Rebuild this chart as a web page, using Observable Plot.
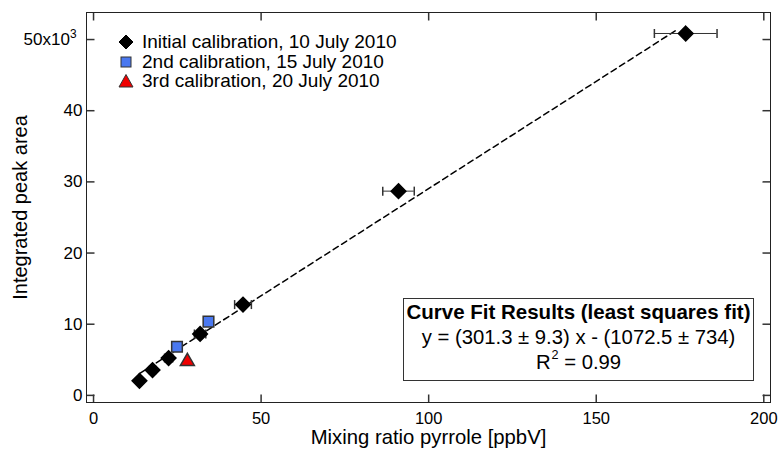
<!DOCTYPE html>
<html><head><meta charset="utf-8">
<script src="https://cdn.jsdelivr.net/npm/d3@7"></script>
<script src="https://cdn.jsdelivr.net/npm/@observablehq/plot@0.6"></script>
<style>
body{margin:0;background:#fff;font-family:"Liberation Sans",Arial,sans-serif;color:#000;}
#wrap{position:relative;width:781px;height:455px;overflow:hidden;}
#wrap svg{position:absolute;left:0;top:0;}
.leg{position:absolute;left:117px;height:20px;display:flex;align-items:center;font-size:19px;white-space:nowrap;}
.leg svg{position:static !important;width:18px;height:18px;margin-right:7px;}
#fitbox{position:absolute;left:403px;top:298px;width:349px;height:81px;border:1px solid #333;text-align:center;font-size:20.3px;line-height:25.5px;background:#fff;white-space:nowrap;}
#fitbox sup{font-size:0.62em;vertical-align:0.8em;line-height:0;margin-left:1px;}
</style></head><body><div id="wrap"></div>
<script>
// ---- data ----
const initialX = [13.7, 17.6, 22.4, 31.8, 44.6, 91.0, 176.7];
const initialY = [2050, 3550, 5250, 8630, 12760, 28700, 50850];
const initialErr = [0.7, 0.9, 1.2, 1.7, 2.5, 4.7, 9.35];
const secondX = [24.9, 34.3];
const secondY = [6840, 10370];
const thirdX = [28.0];
const thirdY = [4770];
const fitSlope = 301.3;
const fitIntercept = -1072.5;
const fitRange = [13.7, 174];
const xTicks = [0, 50, 100, 150, 200];
const yTicks = [0, 10000, 20000, 30000, 40000, 50000];
const legendLabels = ["Initial calibration, 10 July 2010", "2nd calibration, 15 July 2010", "3rd calibration, 20 July 2010"];
const fitTitle = "Curve Fit Results (least squares fit)";
const fitEquation = "y = (301.3 ± 9.3) x - (1072.5 ± 734)";
const fitR2 = "0.99";
const xLabel = "Mixing ratio pyrrole [ppbV]";
const yLabel = "Integrated peak area";

// ---- tables ----
const initial = initialX.map((x, i) => ({x, y: initialY[i], e: initialErr[i]}));
const second = secondX.map((x, i) => ({x, y: secondY[i]}));
const third = thirdX.map((x, i) => ({x, y: thirdY[i]}));
const fitLine = fitRange.map(x => ({x, y: fitSlope * x + fitIntercept}));

const blue = "#4a78f0", red = "#f00000", edge = "#333";
const tickLen = 8;
const tUp = {draw(c){c.moveTo(0,0);c.lineTo(0,-tickLen);}};
const tDown = {draw(c){c.moveTo(0,0);c.lineTo(0,tickLen);}};
const tRight = {draw(c){c.moveTo(0,0);c.lineTo(tickLen,0);}};
const tLeft = {draw(c){c.moveTo(0,0);c.lineTo(-tickLen,0);}};
const capV = {draw(c){c.moveTo(0,-4.5);c.lineTo(0,4.5);}};

const plot = Plot.plot({
  width: 781, height: 455,
  marginLeft: 86, marginRight: 11, marginTop: 12, marginBottom: 53,
  style: {fontFamily: '"Liberation Sans", Arial, sans-serif', fontSize: "17px", color: "#000", background: "#fff"},
  x: {domain: [-2.1, 202]},
  y: {domain: [-1000, 53800]},
  marks: [
    Plot.axisX({ticks: xTicks, tickSize: 0, tickPadding: 10, label: null, fontSize: 16.5}),
    Plot.axisY({ticks: yTicks, tickSize: 0, tickPadding: 4, label: null, fontSize: 17,
      tickFormat: d => d === 50000 ? "50x10" : String(d / 1000)}),
    Plot.dot(xTicks, {x: d => d, frameAnchor: "bottom", symbol: tUp, fill: "none", stroke: edge}),
    Plot.dot(xTicks, {x: d => d, frameAnchor: "top", symbol: tDown, fill: "none", stroke: edge}),
    Plot.dot(yTicks, {y: d => d, frameAnchor: "left", symbol: tRight, fill: "none", stroke: edge}),
    Plot.dot(yTicks, {y: d => d, frameAnchor: "right", symbol: tLeft, fill: "none", stroke: edge}),
    Plot.text([xLabel], {frameAnchor: "bottom", dy: 41.5, fontSize: 20.3, text: d => d}),
    Plot.text([yLabel], {frameAnchor: "left", textAnchor: "middle", dx: -66, rotate: -90, fontSize: 20, text: d => d}),
    Plot.line(fitLine, {x: "x", y: "y", stroke: "#000", strokeWidth: 1.5, strokeDasharray: "6,4"}),
    Plot.ruleY(initial, {y: "y", x1: d => d.x - d.e, x2: d => d.x + d.e, stroke: edge}),
    Plot.dot(initial, {x: d => d.x - d.e, y: "y", symbol: capV, fill: "none", stroke: edge}),
    Plot.dot(initial, {x: d => d.x + d.e, y: "y", symbol: capV, fill: "none", stroke: edge}),
    Plot.dot(initial, {x: "x", y: "y", symbol: "diamond2", r: 6.6, fill: "#000", stroke: "#000"}),
    Plot.dot(second, {x: "x", y: "y", symbol: "square", r: 6.0, fill: blue, stroke: edge}),
    Plot.dot(third, {x: "x", y: "y", symbol: "triangle", r: 5.2, fill: red, stroke: edge}),
    Plot.frame({stroke: "#222"})
  ]
});
const wrap = document.getElementById("wrap");
wrap.appendChild(plot);

// superscript exponent on the top y tick label
plot.querySelectorAll('[aria-label="y-axis tick label"] text').forEach(t => {
  if (t.textContent === "50x10") {
    const ts = document.createElementNS("http://www.w3.org/2000/svg", "tspan");
    ts.setAttribute("dy", "-0.55em");
    ts.setAttribute("font-size", "0.7em");
    ts.textContent = "3";
    t.appendChild(ts);
    t.setAttribute("dx", "-6");
  }
});

// legend
const legendSymbols = [
  `<polygon points="9,2 16,9 9,16 2,9" fill="#000" stroke="#000"/>`,
  `<rect x="4" y="4" width="10" height="10" fill="${blue}" stroke="${edge}"/>`,
  `<polygon points="9,2.5 16,15 2,15" fill="${red}" stroke="${edge}"/>`
];
const rowCenters = [42, 61.7, 81];
legendLabels.forEach((lab, i) => {
  const row = document.createElement("div");
  row.className = "leg";
  row.style.top = (rowCenters[i] - 10) + "px";
  row.innerHTML = `<svg viewBox="0 0 18 18">${legendSymbols[i]}</svg><span>${lab}</span>`;
  wrap.appendChild(row);
});

// fit results box
const box = document.createElement("div");
box.id = "fitbox";
box.innerHTML = `<div style="font-weight:bold;font-size:20.5px">${fitTitle}</div><div>${fitEquation}</div><div>R<sup>2</sup> = ${fitR2}</div>`;
wrap.appendChild(box);
</script>
</body></html>
